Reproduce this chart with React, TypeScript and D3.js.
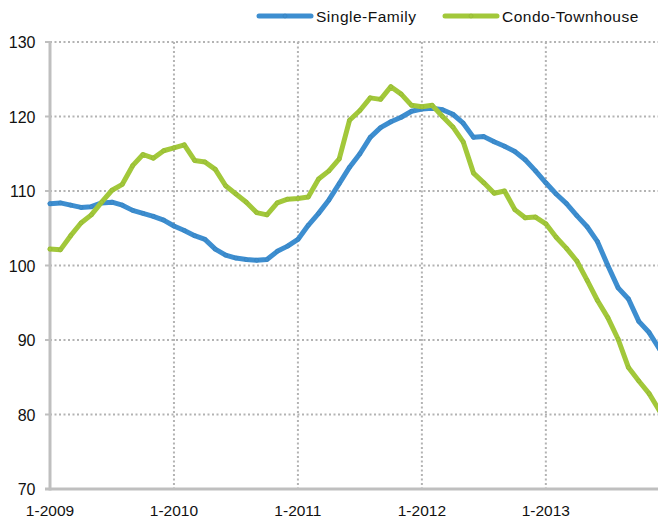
import React from "react";
import * as d3 from "d3";

const months: string[] = [];
for (let y = 2009; y <= 2013; y++) for (let m = 1; m <= 12; m++) months.push(`${m}-${y}`);

const singleFamily = [
  108.3, 108.4, 108.1, 107.8, 107.9, 108.4, 108.5, 108.1, 107.4, 107.0, 106.6, 106.1,
  105.3, 104.7, 104.0, 103.5, 102.2, 101.4, 101.0, 100.8, 100.7, 100.8, 101.9, 102.6,
  103.5, 105.4, 107.0, 108.8, 111.0, 113.2, 115.0, 117.2, 118.5, 119.3, 119.9, 120.7,
  121.0, 121.1, 120.9, 120.3, 119.1, 117.2, 117.3, 116.6, 116.0, 115.3, 114.2, 112.7,
  111.1, 109.6, 108.3, 106.7, 105.2, 103.2, 100.0, 97.0, 95.5, 92.5, 91.0, 88.8,
];
const condoTownhouse = [
  102.2, 102.1, 104.0, 105.7, 106.8, 108.5, 110.1, 110.9, 113.4, 114.9, 114.4, 115.4,
  115.8, 116.2, 114.1, 113.9, 112.9, 110.7, 109.6, 108.5, 107.1, 106.8, 108.4, 108.9,
  109.0, 109.2, 111.6, 112.7, 114.3, 119.5, 120.8, 122.5, 122.3, 124.0, 123.0, 121.5,
  121.3, 121.5, 120.0, 118.6, 116.6, 112.4, 111.1, 109.7, 110.0, 107.5, 106.4, 106.5,
  105.6, 103.8, 102.3, 100.6, 98.0, 95.3, 93.0, 90.1, 86.3, 84.5, 82.8, 80.5,
];
const seriesNames = ["Single-Family", "Condo-Townhouse"];
const seriesColors = ["#3d8ed0", "#a2c83a"];
const yTicks = [70, 80, 90, 100, 110, 120, 130];
const xTickLabels = ["1-2009", "1-2010", "1-2011", "1-2012", "1-2013"];

export default function App() {
  const W = 658, H = 519;
  const left = 50, top = 42, bottom = 489;
  const x = d3.scaleLinear().domain([0, 59]).range([left, left + 59 * 10.33]);
  const y = d3.scaleLinear().domain([70, 130]).range([bottom, top]);
  const line = d3.line<number>().x((_, i) => x(i)).y((d) => y(d));
  const data = [singleFamily, condoTownhouse];
  const font = "'Liberation Sans', Arial, Helvetica, sans-serif";

  return (
    <svg width={W} height={H} style={{ position: "absolute", left: 0, top: 0 }} fontFamily={font}>
      <rect width={W} height={H} fill="#fff" />
      {yTicks.filter((t) => t !== 70).map((t) => (
        <line key={"gy" + t} x1={left} x2={W} y1={y(t)} y2={y(t)} stroke="#b3b3b3" strokeWidth={2} strokeDasharray="2,2.5" />
      ))}
      {xTickLabels.map((lab, k) => k > 0 ? (
        <line key={"gx" + lab} x1={x(k * 12)} x2={x(k * 12)} y1={top} y2={bottom} stroke="#b3b3b3" strokeWidth={2} strokeDasharray="2,2.5" />
      ) : null)}
      {yTicks.map((t) => (
        <g key={"yt" + t}>
          <line x1={left - 5} x2={left} y1={y(t)} y2={y(t)} stroke="#bfbfbf" strokeWidth={2} />
          <text x={35.5} y={y(t) + 6} textAnchor="end" fontSize={16} fill="#111">{t}</text>
        </g>
      ))}
      {xTickLabels.map((lab, k) => (
        <text key={"xl" + lab} x={x(k * 12)} y={516} textAnchor="middle" fontSize={15.5} fill="#111">{lab}</text>
      ))}
      <line x1={left} x2={left} y1={top - 1} y2={bottom + 1.5} stroke="#bfbfbf" strokeWidth={3} />
      <line x1={left - 5} x2={W} y1={bottom} y2={bottom} stroke="#bfbfbf" strokeWidth={3} />
      {data.map((s, si) => (
        <g key={"s" + si}>
          <path d={line(s) || ""} fill="none" stroke={seriesColors[si]} strokeWidth={5} strokeLinejoin="round" strokeLinecap="round" />
          {s.map((v, i) => (
            <circle key={i} cx={x(i)} cy={y(v)} r={2} fill={seriesColors[si]} stroke={d3.color(seriesColors[si])!.darker(0.3).toString()} strokeWidth={0.6} />
          ))}
        </g>
      ))}
      {seriesNames.map((n, si) => {
        const lx = si === 0 ? 259 : 445;
        return (
          <g key={"lg" + si}>
            <line x1={lx} x2={lx + 52} y1={16} y2={16} stroke={seriesColors[si]} strokeWidth={5} strokeLinecap="round" />
            <circle cx={lx + 26} cy={16} r={2} fill={seriesColors[si]} stroke={d3.color(seriesColors[si])!.darker(0.3).toString()} strokeWidth={0.6} />
            <text x={lx + 57} y={21.5} fontSize={15.5} letterSpacing={0.5} fill="#111">{n}</text>
          </g>
        );
      })}
    </svg>
  );
}
